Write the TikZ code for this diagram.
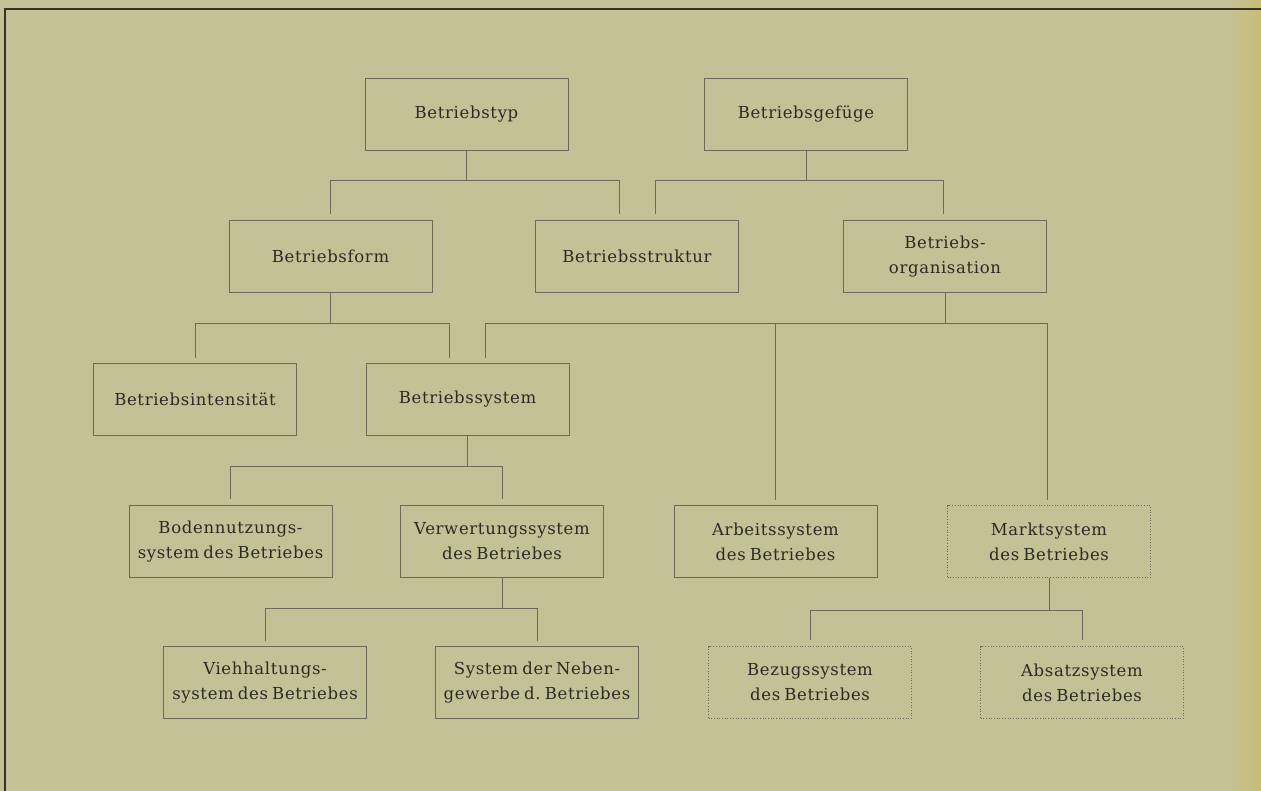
\documentclass[tikz,border=0pt]{standalone}
\usepackage{fontspec}
\setmainfont{DejaVu Serif}[LetterSpace=4,WordSpace=0.7]
\definecolor{bg}{RGB}{197,193,150}
\definecolor{edge}{RGB}{200,188,118}
\definecolor{framec}{RGB}{55,50,36}
\definecolor{linec}{RGB}{108,106,88}
\definecolor{txt}{RGB}{44,42,34}
\begin{document}
\begin{tikzpicture}[x=1pt,y=-1pt,
  box/.style={draw=linec,line width=0.9pt,minimum width=203pt,minimum height=72pt,
    inner sep=0pt,align=center,text=txt,font=\fontsize{16.5}{25}\selectfont\frenchspacing},
  dotbox/.style={box,dash pattern=on 0.9pt off 1.8pt},
  conn/.style={draw=linec,line width=0.9pt},
  frameline/.style={draw=framec,line width=2.6pt}]
\useasboundingbox (0,0) rectangle (1261,791);
\fill[bg] (0,0) rectangle (1261,791);
\shade[left color=bg,right color=edge] (1228,0) rectangle (1261,791);
\draw[frameline] (5,791) -- (5,9) -- (1261,9);

% row 1
\node[box] (typ) at (466.5,114) {Betriebstyp};
\node[box] (gef) at (806,114) {Betriebsgefüge};
% row 2
\node[box] (form) at (330.5,256.5) {Betriebsform};
\node[box] (struk) at (637,256.5) {Betriebsstruktur};
\node[box] (org) at (945,256.5) {Betriebs-\\organisation};
% row 3
\node[box] (int) at (195,399) {Betriebsintensität};
\node[box] (sys) at (467.5,399) {Betriebssystem};
% row 4
\node[box] (boden) at (230.5,541.5) {Bodennutzungs-\\system des Betriebes};
\node[box] (verw) at (502,541.5) {Verwertungssystem\\des Betriebes};
\node[box] (arb) at (775.5,541.5) {Arbeitssystem\\des Betriebes};
\node[dotbox] (markt) at (1049,541.5) {Marktsystem\\des Betriebes};
% row 5
\node[box] (vieh) at (265,682.5) {Viehhaltungs-\\system des Betriebes};
\node[box] (neben) at (537,682.5) {System der Neben-\\gewerbe d.\ Betriebes};
\node[dotbox] (bezug) at (810,682.5) {Bezugssystem\\des Betriebes};
\node[dotbox] (absatz) at (1082,682.5) {Absatzsystem\\des Betriebes};

% connectors
\draw[conn] (typ.south) -- ++(0,30) -| ([yshift=6pt]form.north);
\draw[conn] (typ.south) ++(0,30) -| ([xshift=-18pt,yshift=6pt]struk.north);

\draw[conn] (gef.south) -- ++(0,30) -| ([xshift=18pt,yshift=6pt]struk.north);
\draw[conn] (gef.south) ++(0,30) -| ([xshift=-2pt,yshift=6pt]org.north);

\draw[conn] (form.south) -- ++(0,31) -| ([yshift=5pt]int.north);
\draw[conn] (form.south) ++(0,31) -| ([xshift=-18.5pt,yshift=5pt]sys.north);

\draw[conn] (org.south) -- ++(0,31) -| ([xshift=17.5pt,yshift=5pt]sys.north);
\draw[conn] (org.south) ++(0,31) -| ([xshift=102pt,yshift=5pt]org.south |- markt.north);
\draw[conn] (org.south) ++(0,31) -| ([yshift=5pt]arb.north);

\draw[conn] (sys.south) -- ++(0,31) -| ([yshift=6pt]boden.north);
\draw[conn] (sys.south) ++(0,31) -| ([yshift=6pt]verw.north);

\draw[conn] (verw.south) -- ++(0,30) -| ([yshift=5pt]vieh.north);
\draw[conn] (verw.south) ++(0,30) -| ([yshift=5pt]neben.north);

\draw[conn] (markt.south) -- ++(0,32) -| ([yshift=6pt]bezug.north);
\draw[conn] (markt.south) ++(0,32) -| ([yshift=6pt]absatz.north);
\end{tikzpicture}
\end{document}
